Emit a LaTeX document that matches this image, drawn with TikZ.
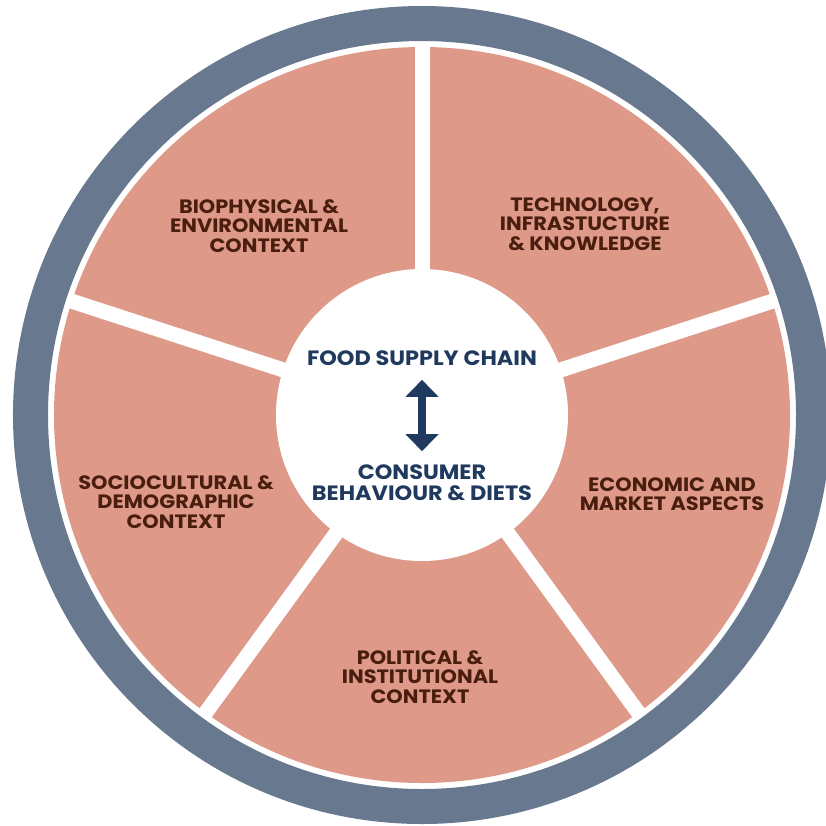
\documentclass[tikz,border=0pt]{standalone}
\usepackage{fontspec}
\setmainfont{Poppins}[FakeStretch=1.08]
\usetikzlibrary{arrows.meta}
\definecolor{slate}{HTML}{68788F}
\definecolor{salmon}{HTML}{DE9989}
\definecolor{umber}{HTML}{4A1E0E}
\definecolor{navy}{HTML}{1F3A5E}

\begin{document}
\begin{tikzpicture}[
  ring/.style={draw=slate,line width=0.7cm},
  spoke/.style={draw=white,line width=0.3cm},
  factor/.style={align=center,text=umber,inner sep=0pt,
    font=\bfseries\fontsize{11}{11.1}\selectfont},
  core/.style={align=center,text=navy,inner sep=0pt,
    font=\bfseries\fontsize{11.8}{11.9}\selectfont},
  link/.style={{Triangle[width=0.64cm,length=0.34cm]}-{Triangle[width=0.64cm,length=0.34cm]},
    line width=0.16cm,draw=navy}]
 \useasboundingbox (-8.44,-8.20) rectangle (8.08,8.30);
 \fill[white] (-8.44,-8.20) rectangle (8.08,8.30);
 % outer ring, five sectors and the hub
 \draw[ring] (0,0) circle (7.83);
 \fill[salmon] (0,0) circle (7.36);
 \foreach \a in {18,90,162,234,306}
   \draw[spoke] (0,0) -- (\a:7.42);
 \fill[white] (0,0) circle (2.92);
 % sector labels
 \node[factor] (bio) at (-3.26,3.78) {BIOPHYSICAL \&\\ENVIRONMENTAL\\CONTEXT};
 \node[factor] (tech) at (3.26,3.82) {TECHNOLOGY,\\INFRASTUCTURE\\\& KNOWLEDGE};
 \node[factor] (socio) at (-4.92,-1.74) {SOCIOCULTURAL \&\\DEMOGRAPHIC\\CONTEXT};
 \node[factor] (econ) at (5.00,-1.58) {ECONOMIC AND\\MARKET ASPECTS};
 \node[factor] (policy) at (-0.04,-5.24) {POLITICAL \&\\INSTITUTIONAL\\CONTEXT};
 % hub labels
 \node[core] (supply) at (0,1.13) {FOOD SUPPLY CHAIN};
 \node[core] (consumer) at (0,-1.35) {CONSUMER\\BEHAVIOUR \& DIETS};
 \draw[link,shorten <=0.27cm,shorten >=0.26cm] (supply) -- (consumer);
\end{tikzpicture}
\end{document}
